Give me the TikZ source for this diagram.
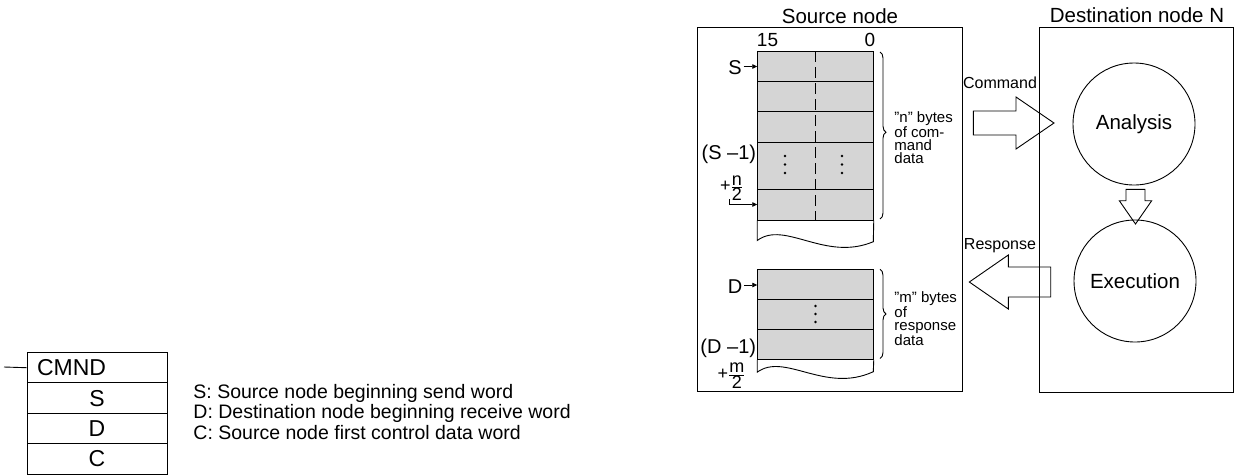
\documentclass[tikz,border=0pt]{standalone}
\usepackage{fontspec}
\setmainfont{Liberation Sans}
\usetikzlibrary{decorations.pathreplacing,arrows.meta}
\definecolor{cellgray}{RGB}{213,213,213}
\begin{document}
\begin{tikzpicture}[x=1pt,y=-1pt,line width=0.9pt,
  cell/.style={draw,fill=cellgray,inner sep=0pt,minimum width=115.6pt},
  crow/.style={draw,inner sep=0pt,minimum width=140pt,minimum height=30.4pt,font=\fontsize{23}{23}\selectfont},
  big/.style={inner sep=0pt,font=\fontsize{20.5}{20.5}\selectfont},
  mid/.style={inner sep=0pt,font=\fontsize{20}{20}\selectfont},
  frc/.style={inner sep=0pt,font=\fontsize{18}{18}\selectfont},
  lab/.style={inner sep=0pt,font=\fontsize{16}{16}\selectfont},
  note/.style={inner sep=0pt,anchor=north west,align=left,font=\fontsize{15}{13.2}\selectfont},
  legend/.style={inner sep=0pt,anchor=west,font=\fontsize{19.5}{19.5}\selectfont},
  ptr/.style={-{Triangle[length=5pt,width=4.5pt]},line width=0.8pt},
  blk/.style={draw,line width=0.9pt,line join=miter},
  brc/.style={decorate,decoration={brace,amplitude=6pt,aspect=#1},line width=0.9pt},
  dot/.style={circle,fill=black,inner sep=0pt,minimum size=2.8pt}]
\useasboundingbox (0,0) rectangle (1234,475);

% ---------- CMND instruction ----------
\coordinate (inl) at (4,367);
\node[crow,text width=120pt,align=left,inner xsep=10pt] (cmnd) at (97,367.7) {CMND};
\node[crow] (rs) at (97,398.1) {S};
\node[crow] (rd) at (97,428.5) {D};
\node[crow] (rc) at (97,458.9) {C};
\draw (inl) -- (cmnd.west);
\node[legend] (ls) at (193,393.5) {S: Source node beginning send word};
\node[legend] (ld) at (193,413) {D: Destination node beginning receive word};
\node[legend] (lc) at (193,432.5) {C: Source node first control data word};

% ---------- Source node ----------
\node[big] (srct) at (840,16) {Source node};
\draw (697,27) rectangle (962.7,391.7);
\node[mid,font=\fontsize{19}{19}\selectfont] (b15) at (767.5,40) {15};
\node[mid,font=\fontsize{19}{19}\selectfont] (b0) at (870,40) {0};

\node[cell,minimum height=29.3pt] (r1) at (815.5,66.35) {};
\node[cell,minimum height=30.7pt] (r2) at (815.5,96.35) {};
\node[cell,minimum height=30.6pt] (r3) at (815.5,127) {};
\node[cell,minimum height=46.7pt] (r4) at (815.5,165.65) {};
\node[cell,minimum height=31pt] (r5) at (815.5,204.5) {};
\draw[dash pattern=on 11pt off 5pt,line width=0.8pt] (r1.north) -- (r5.south);
\draw (r5.south west) -- ++(0,20) .. controls (785,220) and (825,262) .. (873.3,241.7) -- (r5.south east);
\foreach \yy in {156,164.5,173}{
  \node[dot] at (785,\yy) {};
  \node[dot] at (842,\yy) {};
}
\node[mid] (sl) at (735,68) {S};
\draw[ptr] (sl.east) ++(1.5,-1.5) coordinate (sa) (sa) -- (r1.west |- sa);
\node[mid,anchor=east] (sm1) at (756.5,154) {(S –1)};
\node[frc] (nfr) at (731.5,188) {$\mbox{+}\frac{\mbox{n}}{\mbox{2}}$};
\coordinate (lstart) at (729,199);
\draw[ptr] (lstart) |- (r5.west);

\draw[brc=0.48] (880,52) -- (880,219);
\node[note] (ntxt) at (894,111) {"n" bytes\\of com-\\mand\\data};

\node[cell,minimum height=29.7pt] (q1) at (815.5,284.15) {};
\node[cell,minimum height=30pt] (q2) at (815.5,314) {};
\node[cell,minimum height=30.3pt] (q3) at (815.5,344.15) {};
\draw (q3.south west) -- ++(0,12.4) .. controls (785,352) and (825,394) .. (873.3,371.7) -- (q3.south east);
\foreach \yy in {306,314,322}{ \node[dot] at (815.5,\yy) {}; }
\node[mid] (dl) at (735,287) {D};
\draw[ptr] (dl.east) ++(1.5,-2) coordinate (da) (da) -- (q1.west |- da);
\node[mid,anchor=east] (dm1) at (756.5,348) {(D –1)};
\node[frc] (mfr) at (731.5,375.5) {$\mbox{+}\frac{\mbox{m}}{\mbox{2}}$};
\draw[brc=0.5] (880,269.3) -- (880,358.5);
\node[note] (mtxt) at (894,291) {"m" bytes\\of\\response\\data};

% ---------- Destination node ----------
\node[big] (dstt) at (1137,15.5) {Destination node N};
\draw (1039,27.3) rectangle (1233,392);
\node[draw,circle,minimum size=122pt,inner sep=0pt,big] (ana) at (1134,124) {Analysis};
\node[draw,circle,minimum size=122pt,inner sep=0pt,big] (exe) at (1135,281) {Execution};

% block arrows
\draw[blk] (973.3,111) -- (1016,111) -- (1016,97) -- (1054,123) -- (1016,149) -- (1016,135) -- (973.3,135) -- cycle;
\node[lab] (cmdl) at (1000,83) {Command};
\draw[blk] (1050.7,267) -- (1008.3,267) -- (1008.3,255) -- (969.3,282) -- (1008.3,309) -- (1008.3,297) -- (1050.7,297) -- cycle;
\node[lab] (rspl) at (1000,245.5) {Response};
\draw[blk] (1126,189.3) -- (1145,189.3) -- (1145,200.7) -- (1151.7,200.7) -- (1135.5,224) -- (1119.3,200.7) -- (1126,200.7) -- cycle;
\end{tikzpicture}
\end{document}
